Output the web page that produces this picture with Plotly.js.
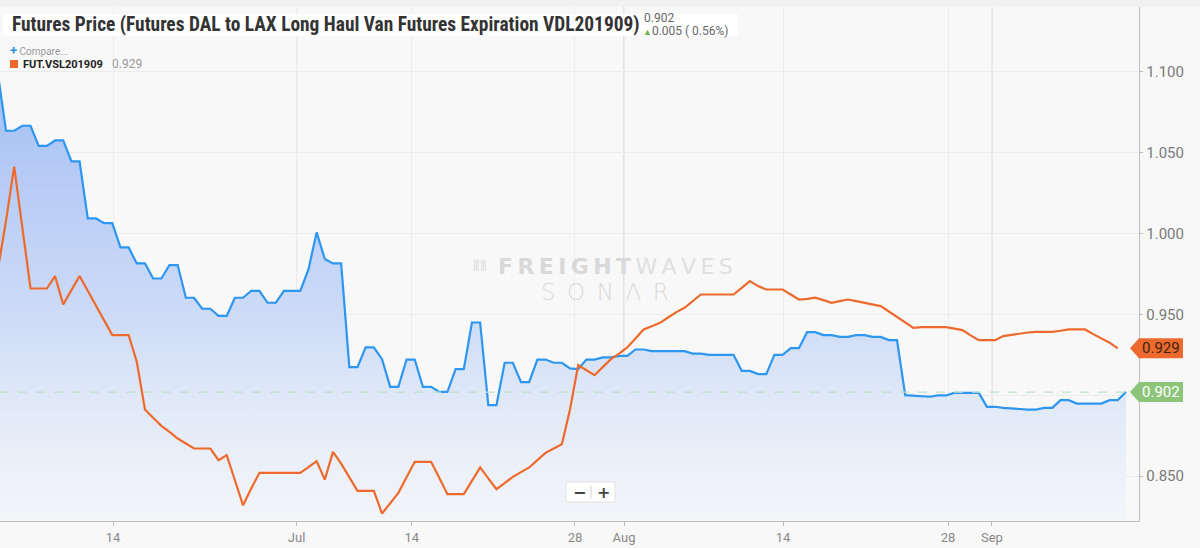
<!DOCTYPE html>
<html>
<head>
<meta charset="utf-8">
<script src="https://cdn.plot.ly/plotly-3.0.1.min.js"></script>
<style>html,body{margin:0;padding:0;background:#f8f8f8;}#chart{width:1200px;height:548px;}</style>
</head>
<body>
<div id="chart"></div>
<script>
// ---- data (one value per sample, index -1 is the sample just left of the view) ----
const firstIndex = -1;
const vdlValues = [
  1.099,
  1.0635,1.0635,1.0666,1.0666,1.0542,1.0542,1.0575,1.0575,1.0446,1.0446,
  1.0093,1.0093,1.0064,1.0064,0.9914,0.9914,0.9815,0.9815,0.9722,0.9722,
  0.9805,0.9805,0.9603,0.9603,0.9535,0.9535,0.9491,0.9491,0.9603,0.9603,
  0.9646,0.9646,0.9572,0.9572,0.9646,0.9646,0.9646,0.9778,1.0007,0.9842,
  0.9815,0.9815,0.9174,0.9174,0.9296,0.9296,0.9223,0.9052,0.9052,0.9221,
  0.9221,0.9052,0.9052,0.9021,0.9021,0.9162,0.9162,0.9450,0.9450,0.8939,
  0.8939,0.9201,0.9201,0.9081,0.9081,0.9221,0.9221,0.9201,0.9201,0.9166,
  0.9162,0.9221,0.9221,0.9234,0.9234,0.9244,0.9244,0.9283,0.9283,0.9273,
  0.9273,0.9273,0.9273,0.9273,0.9258,0.9258,0.9250,0.9250,0.9250,0.9250,
  0.9151,0.9151,0.9131,0.9131,0.9250,0.9250,0.9291,0.9291,0.9390,0.9390,
  0.9372,0.9372,0.9361,0.9361,0.9372,0.9372,0.9361,0.9361,0.9341,0.9341,
  0.9001,0.8997,0.8991,0.8991,0.8999,0.8999,0.9015,0.9015,0.9015,0.9015,
  0.8929,0.8929,0.8922,0.8918,0.8918,0.8912,0.8912,0.8922,0.8922,0.8970,
  0.8970,0.8949,0.8949,0.8949,0.8949,0.8970,0.8970,0.902
];
const vslValues = [
  0.9776,
  1.0079,1.0413,1.0037,0.9660,0.9660,0.9660,0.9737,0.9561,0.9650,0.9737,
  0.9646,0.9555,0.9462,0.9372,0.9372,0.9372,0.9207,0.8912,0.8861,0.8811,
  0.8774,0.8733,0.8702,0.8671,0.8671,0.8671,0.8599,0.8630,0.8475,0.8320,
  0.8424,0.8521,0.8521,0.8521,0.8521,0.8521,0.8521,0.8556,0.8593,0.8479,
  0.8650,0.8578,0.8494,0.8409,0.8409,0.8409,0.8269,0.8331,0.8397,0.8494,
  0.8589,0.8589,0.8589,0.8490,0.8389,0.8389,0.8389,0.8471,0.8554,0.8486,
  0.8420,0.8457,0.8496,0.8525,0.8554,0.8599,0.8644,0.8671,0.8698,0.8914,
  0.9187,0.9155,0.9124,0.9174,0.9223,0.9258,0.9296,0.9351,0.9407,0.9427,
  0.9448,0.9481,0.9514,0.9541,0.9582,0.9623,0.9623,0.9623,0.9623,0.9623,
  0.9664,0.9706,0.9675,0.9654,0.9654,0.9654,0.9623,0.9592,0.9596,0.9603,
  0.9588,0.9572,0.9582,0.9592,0.9582,0.9572,0.9561,0.9551,0.9518,0.9485,
  0.9450,0.9417,0.9421,0.9423,0.9421,0.9421,0.9413,0.9403,0.9370,0.9341,
  0.9341,0.9341,0.9366,0.9374,0.9382,0.9388,0.9392,0.9392,0.9392,0.9399,
  0.9407,0.9407,0.9407,0.9378,0.9351,0.9325,0.9290
];
const tickLabels = ['14','Jul','14','28','Aug','14','28','Sep'];
const tickIndex  = [13.1, 35.55, 49.65, 69.6, 75.6, 95.05, 115.25, 120.6];
const monthTickLabels = ['Jul','Aug','Sep'];
const yTicks = [0.85, 0.90, 0.95, 1.00, 1.05, 1.10];
const vdlName = 'VDL201909';
const vslName = 'FUT.VSL201909';
const titleText = 'Futures Price (Futures DAL to LAX Long Haul Van Futures Expiration VDL201909)';
const changeText = '0.005 ( 0.56%)';

// ---- build ----
const vdlX = vdlValues.map((_, i) => i + firstIndex);
const vslX = vslValues.map((_, i) => i + firstIndex);
const lastVdl = vdlValues[vdlValues.length - 1];
const lastVsl = vslValues[vslValues.length - 1];
const yMin = 0.8223, yMax = 1.140;

const blue = '#2d96f0';
const orange = '#ee6a2c';
const green = '#8cc57a';

const traces = [
  {
    x: vdlX, y: vdlValues, name: vdlName, type: 'scatter', mode: 'lines',
    line: {color: blue, width: 2.2, shape: 'linear'},
    fill: 'tozeroy',
    fillgradient: {type: 'vertical', start: yMin, stop: 1.10,
      colorscale: [[0, '#f3f5f8'], [0.1, '#edf1f8'], [0.28, '#dfe8f8'], [0.46, '#cddbf7'],
                   [0.82, '#b2c8f5'], [1, '#a2bef4']]},
    hoverinfo: 'skip'
  },
  {
    x: vslX, y: vslValues, name: vslName, type: 'scatter', mode: 'lines',
    line: {color: orange, width: 2.2},
    hoverinfo: 'skip'
  }
];

const W = 1139, H = 514, T = 7; // plot area in px
const px = v => v / W;
const py = v => (T + H - v) / H;

const shapes = [];
// top band
shapes.push({type: 'rect', xref: 'paper', yref: 'paper', x0: 0, x1: 1200 / W, y0: 1, y1: 1 + T / H,
  fillcolor: '#f1f1f1', line: {width: 0}, layer: 'below'});
// month grid lines (darker)
monthTickLabels.forEach(m => {
  const xi = tickIndex[tickLabels.indexOf(m)];
  shapes.push({type: 'line', xref: 'x', yref: 'paper', x0: xi, x1: xi, y0: 0, y1: 1,
    line: {color: '#d6d6d6', width: 1.3}, layer: 'below'});
});
// dashed last-value line
shapes.push({type: 'line', xref: 'paper', yref: 'y', x0: 0, x1: 1, y0: lastVdl, y1: lastVdl,
  line: {color: '#bfe0c4', width: 1.2, dash: 'dash'}, layer: 'above'});
// title box
shapes.push({type: 'rect', xref: 'paper', yref: 'paper', x0: px(3), x1: px(738), y0: py(36), y1: py(14),
  fillcolor: '#ffffff', line: {width: 0}, layer: 'above'});
// legend square
shapes.push({type: 'rect', xref: 'paper', yref: 'paper', x0: px(10), x1: px(18), y0: py(68), y1: py(60),
  fillcolor: orange, line: {width: 0}});
// zoom buttons
shapes.push({type: 'rect', xref: 'paper', yref: 'paper', x0: px(566), x1: px(615), y0: py(502), y1: py(482),
  fillcolor: '#ffffff', line: {color: '#e2e2e2', width: 1}});
shapes.push({type: 'line', xref: 'paper', yref: 'paper', x0: px(591), x1: px(591), y0: py(498), y1: py(486),
  line: {color: '#d0d0d0', width: 1}});
// value tags on the right
function tag(val, col) {
  return {type: 'path', xref: 'paper', yref: 'y', xsizemode: 'pixel', ysizemode: 'pixel',
    xanchor: 1, yanchor: val, path: 'M -9 0 L 0 -10 L 44 -10 L 44 10 L 0 10 Z',
    fillcolor: col, line: {width: 0}};
}
shapes.push(tag(lastVsl, orange));
shapes.push(tag(lastVdl, green));

const wm = '#d9d9d9';
const annotations = [
  {xref: 'paper', yref: 'paper', x: px(10), y: py(25), xanchor: 'left', yanchor: 'middle', showarrow: false,
    text: '<b>' + titleText + '</b>',
    font: {family: 'Roboto Condensed, Liberation Sans Narrow, DejaVu Sans Condensed, Roboto, sans-serif', size: 19.4, color: '#333'}},
  {xref: 'paper', yref: 'paper', x: px(642), y: py(18), xanchor: 'left', yanchor: 'middle', showarrow: false,
    text: lastVdl.toFixed(3), font: {family: 'Roboto', size: 12, color: '#666'}},
  {xref: 'paper', yref: 'paper', x: px(641), y: py(31), xanchor: 'left', yanchor: 'middle', showarrow: false,
    text: '<span style="color:#6cb54f;font-size:9px">▲</span>' + changeText, font: {family: 'Roboto', size: 12, color: '#666'}},
  {xref: 'paper', yref: 'paper', x: px(8), y: py(50), xanchor: 'left', yanchor: 'middle', showarrow: false,
    text: '<span style="color:#2d8fe6;font-size:13px"><b>+</b></span> Compare...', font: {family: 'Roboto', size: 10, color: '#999'}},
  {xref: 'paper', yref: 'paper', x: px(21), y: py(64), xanchor: 'left', yanchor: 'middle', showarrow: false,
    text: '<b>' + vslName + '</b>', font: {family: 'Roboto', size: 11, color: '#222'}},
  {xref: 'paper', yref: 'paper', x: px(110), y: py(64), xanchor: 'left', yanchor: 'middle', showarrow: false,
    text: lastVsl.toFixed(3), font: {family: 'Roboto', size: 12, color: '#999'}},
  // watermark
  {xref: 'paper', yref: 'paper', x: px(471), y: py(266), xanchor: 'left', yanchor: 'middle', showarrow: false,
    text: '⦀⦀', font: {family: 'DejaVu Sans', size: 15, color: '#dedede'}},
  {xref: 'paper', yref: 'paper', x: px(496), y: py(266), xanchor: 'left', yanchor: 'middle', showarrow: false,
    text: '<b>F\u2009R\u2009E\u2009I\u2009G\u2009H\u2009T</b>\u2009<span style="color:#e0e0e0">W\u2009A\u2009V\u2009E\u2009S</span>',
    font: {family: 'DejaVu Sans', size: 22, color: wm}},
  {xref: 'paper', yref: 'paper', x: px(605), y: py(292), xanchor: 'center', yanchor: 'middle', showarrow: false,
    text: 'S\u2002O\u2002N\u2002\u039B\u2002R', font: {family: 'DejaVu Sans', size: 23, color: '#dadada', weight: 300}},
  // zoom buttons
  {xref: 'paper', yref: 'paper', x: px(579), y: py(492), xanchor: 'center', yanchor: 'middle', showarrow: false,
    text: '<b>−</b>', font: {family: 'DejaVu Sans', size: 16, color: '#444'}},
  {xref: 'paper', yref: 'paper', x: px(603), y: py(492), xanchor: 'center', yanchor: 'middle', showarrow: false,
    text: '<b>+</b>', font: {family: 'DejaVu Sans', size: 16, color: '#444'}},
  // right tags text
  {xref: 'paper', yref: 'y', x: 1, xshift: 1, y: lastVsl, xanchor: 'left', yanchor: 'middle', showarrow: false,
    text: lastVsl.toFixed(3), font: {family: 'Roboto', size: 15, color: '#3a2418'}},
  {xref: 'paper', yref: 'y', x: 1, xshift: 1, y: lastVdl, xanchor: 'left', yanchor: 'middle', showarrow: false,
    text: lastVdl.toFixed(3), font: {family: 'Roboto', size: 15, color: '#ffffff'}}
];

// tick labels hidden behind the value tags stay as grid lines only
const yTickText = yTicks.map(v =>
  (Math.abs(v - lastVdl) < 0.008 || Math.abs(v - lastVsl) < 0.008) ? '' : v.toFixed(3));

const layout = {
  width: 1200, height: 548,
  margin: {l: 0, r: 61, t: T, b: 27, pad: 0},
  paper_bgcolor: '#f8f8f8', plot_bgcolor: '#f8f8f8',
  showlegend: false,
  font: {family: 'Roboto', color: '#777'},
  xaxis: {
    range: [-0.734, 138.6], tickmode: 'array', tickvals: tickIndex, ticktext: tickLabels,
    showgrid: true, gridcolor: '#ececec', gridwidth: 1, zeroline: false,
    showline: true, linecolor: '#bdbdbd', linewidth: 1.3,
    ticks: 'outside', ticklen: 4, tickcolor: '#bdbdbd',
    tickfont: {family: 'Roboto', size: 13, color: '#888'}, fixedrange: true
  },
  yaxis: {
    side: 'right', range: [yMin, yMax], tickmode: 'array', tickvals: yTicks,
    ticktext: yTickText,
    showgrid: true, gridcolor: '#ececec', zeroline: false,
    showline: true, linecolor: '#bdbdbd', linewidth: 1.3,
    ticks: 'outside', ticklen: 3, tickcolor: '#bdbdbd',
    tickfont: {family: 'Roboto', size: 15, color: '#7a7a7a'}, fixedrange: true
  },
  shapes: shapes,
  annotations: annotations
};

Plotly.newPlot('chart', traces, layout, {displayModeBar: false, staticPlot: true});
</script>
</body>
</html>
